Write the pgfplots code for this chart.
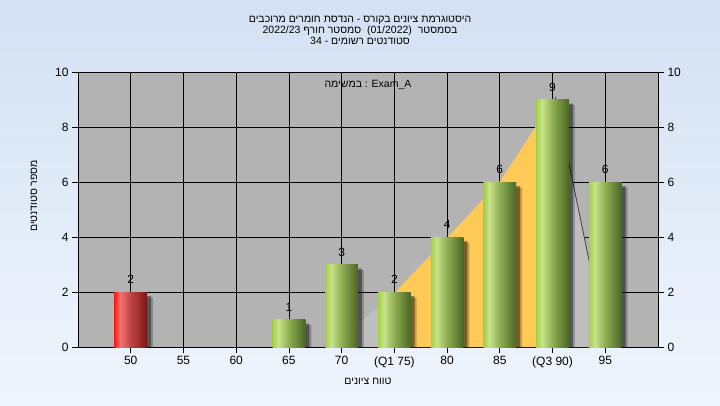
\documentclass[border=0pt]{standalone}
\usepackage{fontspec}
\setmainfont{Liberation Sans}
\newfontfamily\hebfont[Script=Hebrew]{Liberation Sans}
\TeXXeTstate=1
\usepackage{pgfplots}
\pgfplotsset{compat=1.18}
\newcommand{\R}[1]{{\hebfont\beginR #1\endR}}
\definecolor{bgtop}{HTML}{D4E1F3}
\definecolor{bgbot}{HTML}{EEF5FD}
\definecolor{plotgray}{HTML}{B3B3B3}
\definecolor{polygray}{HTML}{BEBEBE}
\definecolor{iqr}{HTML}{FDCA58}
\definecolor{gA}{HTML}{A3CF48}
\definecolor{gB}{HTML}{C8E28A}
\definecolor{gC}{HTML}{8EAE52}
\definecolor{gD}{HTML}{4A6624}
\definecolor{rA}{HTML}{FF1A1A}
\definecolor{rB}{HTML}{F07474}
\definecolor{rC}{HTML}{C04444}
\definecolor{rD}{HTML}{781616}
\pgfdeclarehorizontalshading{greenbar}{100bp}{color(0bp)=(gA); color(25bp)=(gA); color(34bp)=(gB); color(50bp)=(gC); color(75bp)=(gD); color(100bp)=(gD)}
\pgfdeclarehorizontalshading{redbar}{100bp}{color(0bp)=(rA); color(25bp)=(rA); color(34bp)=(rB); color(50bp)=(rC); color(75bp)=(rD); color(100bp)=(rD)}
\pgfplotsset{
  gbar/.style={ybar, bar width=0.62, bar shift=0pt, draw=none, shading=greenbar, nodes near coords},
  rbar/.style={ybar, bar width=0.62, bar shift=0pt, draw=none, shading=redbar, nodes near coords},
}
\begin{document}
\begin{tikzpicture}
\fill[top color=bgtop, bottom color=bgbot] (0pt,0pt) rectangle (720pt,405pt);
\begin{axis}[at={(78pt,58pt)}, anchor=south west, scale only axis,
  width=580pt, height=275pt,
  xmin=-1, xmax=10, ymin=0, ymax=10,
  axis background/.style={fill=plotgray},
  xtick={0,...,9},
  xticklabels={50,55,60,65,70,(Q1 75),80,85,(Q3 90),95},
  ytick={0,2,...,10},
  grid=major, major grid style={black, line width=0.8pt},
  tick align=outside, major tick length=6pt,
  tick style={black, line width=0.8pt},
  axis line style={black, line width=0.8pt},
  ytick pos=left, xtick pos=bottom,
  tick label style={font=\fontsize{12}{13}\selectfont},
  /pgf/number format/assume math mode=true,
  every node near coord/.append style={font=\fontsize{12}{14}\selectfont, inner sep=0pt, anchor=south, yshift=8pt, black},
]
% distribution polygon
\addplot[fill=polygray, draw=none] coordinates {(3.81,0) (4.34,0.87) (5.0,1.97) (5.0,0)} -- cycle;
\addplot[fill=iqr, draw=none] coordinates {(5.0,0) (5.0,1.97) (6.14,4.25) (7.02,6.07) (7.68,8.01) (8.0,8.95) (8.0,0)} -- cycle;
\addplot[fill=polygray, draw=none] coordinates {(8.0,0) (8.0,8.95) (8.05,9.1) (8.33,6.5) (8.71,2.98) (9.03,0)} -- cycle;
\addplot[draw=black!75, line width=0.8pt] coordinates {(8.05,9.1) (8.33,6.5) (8.71,2.98) (9.03,0)};
% shadows
\addplot[ybar, bar width=0.62, bar shift=6pt, fill=black, opacity=0.22, draw=none]
  coordinates {(0,1.80) (3,0.80) (4,2.80) (5,1.80) (6,3.80) (7,5.80) (8,8.80) (9,5.80)};
\addplot[ybar, bar width=0.62, bar shift=4pt, fill=black, opacity=0.4, draw=none]
  coordinates {(0,1.85) (3,0.85) (4,2.85) (5,1.85) (6,3.85) (7,5.85) (8,8.85) (9,5.85)};
% bars
\addplot[rbar] coordinates {(0,2)};
\addplot[gbar] coordinates {(3,1)};
\addplot[gbar] coordinates {(4,3)};
\addplot[gbar] coordinates {(5,2)};
\addplot[gbar] coordinates {(6,4)};
\addplot[gbar] coordinates {(7,6)};
\addplot[gbar] coordinates {(8,9)};
\addplot[gbar] coordinates {(9,6)};
\end{axis}
\begin{axis}[at={(78pt,58pt)}, anchor=south west, scale only axis,
  width=580pt, height=275pt,
  xmin=-1, xmax=10, ymin=0, ymax=10,
  axis x line=none, axis y line*=right,
  ytick={0,2,...,10},
  tick align=outside, major tick length=6pt,
  tick style={black, line width=0.8pt},
  axis line style={black, line width=0.8pt},
  tick label style={font=\fontsize{12}{13}\selectfont},
  /pgf/number format/assume math mode=true,
]
\addplot[draw=none] coordinates {(0,0)};
\end{axis}
\node[anchor=base, font=\fontsize{10.5}{12}\selectfont] at (360pt,382.5pt) {\R{היסטוגרמת ציונים בקורס - הנדסת חומרים מרוכבים}};
\node[anchor=base, font=\fontsize{10.5}{12}\selectfont] at (360pt,371pt) {\R{בסמסטר\ \ \beginL(01/2022)\endL\ \ סמסטר חורף \beginL 2022/23\endL}};
\node[anchor=base, font=\fontsize{10.5}{12}\selectfont] at (360pt,360pt) {\R{סטודנטים רשומים - \beginL 34\endL}};
\node[anchor=base, font=\fontsize{10.5}{12}\selectfont] at (368pt,317pt) {\R{במשימה} : Exam\_A};
\node[anchor=center, font=\fontsize{10.5}{12}\selectfont] at (368pt,24pt) {\R{טווח ציונים}};
\node[anchor=center, rotate=90, font=\fontsize{10.5}{12}\selectfont] at (34pt,209pt) {\R{מספר סטודנטים}};
\end{tikzpicture}
\end{document}
